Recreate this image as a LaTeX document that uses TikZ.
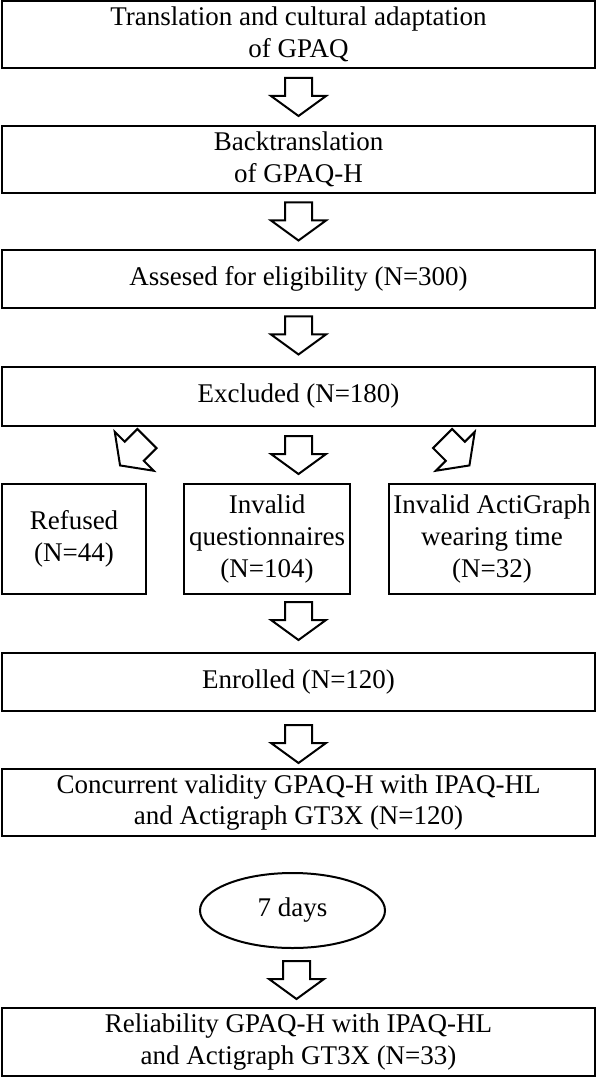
\documentclass[tikz,border=0pt]{standalone}
\usepackage{fontspec}
\setmainfont{Liberation Serif}
\usetikzlibrary{shapes.geometric,calc}

\begin{document}
\begin{tikzpicture}[x=0.5pt,y=-0.5pt,
  box/.style={draw,line width=1pt,inner sep=0pt,align=center,
              font=\fontsize{13.5}{15.8}\selectfont},
  wide/.style={box,minimum width=296.5pt},
  oval/.style={draw,ellipse,line width=1pt,inner sep=0pt,minimum width=92.5pt,
               minimum height=37.5pt,font=\fontsize{13.5}{15.8}\selectfont},
  blockarrow/.pic={\draw[line width=1pt,line join=miter]
    (-13.5,-19) -- (13.5,-19) -- (13.5,-1) -- (27.5,-1) -- (0,19)
    -- (-27.5,-1) -- (-13.5,-1) -- cycle;}
]
  \useasboundingbox (0,0) rectangle (597,1079);
  % Main steps
  \node[wide,minimum height=33.5pt] (trans) at (298.5,34.5) {Translation and cultural adaptation\\of GPAQ};
  \node[wide,minimum height=33.5pt] (back)  at (298.5,159.5) {Backtranslation\\of GPAQ-H};
  \node[wide,minimum height=29pt]   (assess) at (298.5,279) {Assesed for eligibility (N=300)};
  \node[wide,minimum height=29.5pt] (excl)  at (298.5,396.5) {Excluded (N=180)};
  % Exclusion reasons
  \node[box,minimum width=72pt,minimum height=55pt]  (refused) at (74,539) {Refused\\(N=44)};
  \node[box,minimum width=83pt,minimum height=55pt]  (invq)    at (267,539) {Invalid\\questionnaires\\(N=104)};
  \node[box,minimum width=103pt,minimum height=55pt] (invag)   at (492,539) {Invalid ActiGraph\\wearing time\\(N=32)};
  % Enrolled and follow-up
  \node[wide,minimum height=29pt]   (enr)  at (298.5,682) {Enrolled (N=120)};
  \node[wide,minimum height=33.5pt] (conc) at (298.5,802.5) {Concurrent validity GPAQ-H with IPAQ-HL\\and Actigraph GT3X (N=120)};
  \node[oval] (days) at (292.5,910.5) {7 days};
  \node[wide,minimum height=34pt]   (rel)  at (298.5,1042) {Reliability GPAQ-H with IPAQ-HL\\and Actigraph GT3X (N=33)};
  % Arrows
  \pic at ($(trans.south)!0.5!(back.north)$) {blockarrow};
  \pic at ($(back.south)!0.5!(assess.north)$) {blockarrow};
  \pic at ($(assess.south)!0.5!(excl.north)+(0,-2)$) {blockarrow};
  \pic at ($(excl.south)+(0,28)$) {blockarrow};
  \pic[rotate=-45] at ($(excl.south)+(-165,25)$) {blockarrow};
  \pic[rotate=45]  at ($(excl.south)+(157.5,25)$) {blockarrow};
  \pic at ($(enr.north)+(0,-31)$) {blockarrow};
  \pic at ($(enr.south)!0.5!(conc.north)+(0,4)$) {blockarrow};
  \pic at ($(days.south)!0.5!(rel.north)+(1,2)$) {blockarrow};
\end{tikzpicture}
\end{document}
